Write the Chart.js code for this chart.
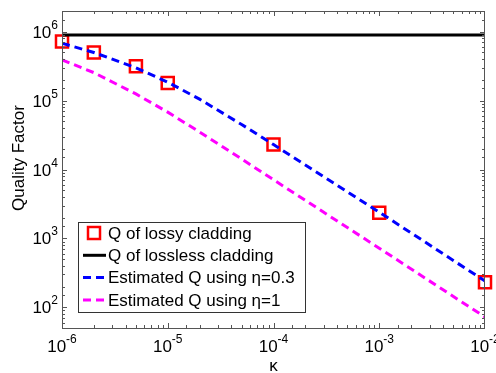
<!DOCTYPE html>
<html>
<head>
<meta charset="utf-8">
<script src="https://cdn.jsdelivr.net/npm/chart.js@4.4.1/dist/chart.umd.min.js"></script>
<style>
html, body { margin: 0; padding: 0; background: #fff; }
#wrap { width: 496px; height: 373px; }
canvas { display: block; }
</style>
</head>
<body>
<div id="wrap"><canvas id="qChart" width="496" height="373"></canvas></div>
<script>
// data
const kappaLossy = [1e-6, 2e-6, 5e-6, 1e-5, 1e-4, 1e-3, 1e-2];
const qLossy = [7.2e5, 5.0e5, 3.15e5, 1.8e5, 2.3e4, 2.35e3, 230];

const kappaLossless = [1e-6, 1e-2];
const qLossless = [9.0e5, 9.0e5];

const kappaEst = [1e-6, 2e-6, 5e-6, 1e-5, 2e-5, 5e-5, 1e-4, 1e-3, 1e-2];
const qEst03 = [6.8e5, 5.0e5, 3.0e5, 1.85e5, 1.05e5, 4.5e4, 2.3e4, 2.4e3, 240];
const qEst1 = [3.9e5, 2.55e5, 1.25e5, 6.8e4, 3.5e4, 1.42e4, 7.1e3, 720, 72];

const xTickExp = [-6, -5, -4, -3, -2];
const yTickExp = [2, 3, 4, 5, 6];
const seriesNames = ['Q of lossy cladding', 'Q of lossless cladding', 'Estimated Q using \u03b7=0.3', 'Estimated Q using \u03b7=1'];

const FONT = '"Liberation Sans", Arial, sans-serif';
const toPts = (xs, ys) => xs.map((x, i) => ({ x: x, y: ys[i] }));

// axes box, inward ticks, superscript labels, legend
const matlabAxes = {
  id: 'matlabAxes',
  afterDraw(chart) {
    const ctx = chart.ctx;
    const a = chart.chartArea;
    const xs = chart.scales.x;
    const ys = chart.scales.y;
    const isMajor = v => Math.abs(Math.log10(v) - Math.round(Math.log10(v))) < 1e-6;

    ctx.save();
    ctx.strokeStyle = '#555';
    ctx.lineWidth = 1;
    ctx.strokeRect(a.left + 0.5, a.top + 0.5, a.right - a.left - 1, a.bottom - a.top);

    ctx.beginPath();
    xs.ticks.forEach(t => {
      const p = Math.round(xs.getPixelForValue(t.value)) + 0.5;
      if (p < a.left || p > a.right) return;
      const len = isMajor(t.value) ? 5 : 3;
      ctx.moveTo(p, a.bottom); ctx.lineTo(p, a.bottom - len);
      ctx.moveTo(p, a.top); ctx.lineTo(p, a.top + len);
    });
    ys.ticks.forEach(t => {
      const p = Math.round(ys.getPixelForValue(t.value)) + 0.5;
      if (p < a.top || p > a.bottom) return;
      const len = isMajor(t.value) ? 5 : 3;
      ctx.moveTo(a.left, p); ctx.lineTo(a.left + len, p);
      ctx.moveTo(a.right, p); ctx.lineTo(a.right - len, p);
    });
    ctx.stroke();

    // tick labels 10^n
    ctx.fillStyle = '#000';
    ctx.textBaseline = 'alphabetic';
    const drawPow = (exp, cx, base, alignRight) => {
      ctx.font = '17px ' + FONT;
      const w1 = ctx.measureText('10').width;
      ctx.font = '12px ' + FONT;
      const sup = String(exp);
      const w2 = ctx.measureText(sup).width;
      const start = alignRight ? cx - w1 - w2 : cx - (w1 + w2) / 2;
      ctx.textAlign = 'left';
      ctx.font = '17px ' + FONT;
      ctx.fillText('10', start, base);
      ctx.font = '12px ' + FONT;
      ctx.fillText(sup, start + w1, base - 9);
    };
    xTickExp.forEach(e => {
      const px = xs.getPixelForValue(Math.pow(10, e));
      drawPow(e, px, a.bottom + 24, false);
    });
    yTickExp.forEach(e => {
      const py = ys.getPixelForValue(Math.pow(10, e));
      drawPow(e, a.left - 4, py + 6, true);
    });

    // axis titles
    ctx.font = '17px ' + FONT;
    ctx.textAlign = 'center';
    ctx.textBaseline = 'middle';
    ctx.fillText('\u03ba', (a.left + a.right) / 2, 366);
    ctx.save();
    ctx.translate(19, 158);
    ctx.rotate(-Math.PI / 2);
    ctx.fillText('Quality Factor', 0, 0);
    ctx.restore();

    // legend
    const lx = 78, ly = 222, lw = 227, lh = 90;
    ctx.fillStyle = '#fff';
    ctx.fillRect(lx, ly, lw, lh);
    ctx.strokeStyle = '#333';
    ctx.lineWidth = 1;
    ctx.strokeRect(lx + 0.5, ly + 0.5, lw, lh);
    ctx.font = '17px ' + FONT;
    ctx.textAlign = 'left';
    ctx.textBaseline = 'middle';
    chart.data.datasets.forEach((ds, i) => {
      const ry = ly + 11 + i * 22.3;
      if (ds.showLine === false) {
        ctx.strokeStyle = ds.pointBorderColor;
        ctx.lineWidth = ds.pointBorderWidth;
        ctx.setLineDash([]);
        ctx.strokeRect(88, ry - 6, 12, 12);
      } else {
        ctx.strokeStyle = ds.borderColor;
        ctx.lineWidth = ds.borderWidth;
        ctx.setLineDash(ds.borderDash || []);
        ctx.beginPath();
        ctx.moveTo(83, ry); ctx.lineTo(106, ry);
        ctx.stroke();
        ctx.setLineDash([]);
      }
      ctx.fillStyle = '#000';
      ctx.fillText(ds.label, 108, ry + 1);
    });
    ctx.restore();
  }
};

new Chart(document.getElementById('qChart'), {
  type: 'scatter',
  data: {
    datasets: [
      {
        label: seriesNames[0],
        data: toPts(kappaLossy, qLossy),
        showLine: false,
        pointStyle: 'rect',
        pointRadius: 8.5,
        pointBorderColor: '#ff0000',
        pointBackgroundColor: 'rgba(0,0,0,0)',
        pointBorderWidth: 2.5,
        clip: false,
        order: 4
      },
      {
        label: seriesNames[1],
        data: toPts(kappaLossless, qLossless),
        showLine: true,
        borderColor: '#000000',
        borderWidth: 3,
        pointRadius: 0,
        order: 3
      },
      {
        label: seriesNames[2],
        data: toPts(kappaEst, qEst03),
        showLine: true,
        borderColor: '#0000ff',
        borderWidth: 3,
        borderDash: [8, 5],
        pointRadius: 0,
        order: 2
      },
      {
        label: seriesNames[3],
        data: toPts(kappaEst, qEst1),
        showLine: true,
        borderColor: '#ff00ff',
        borderWidth: 3,
        borderDash: [8, 5],
        pointRadius: 0,
        order: 1
      }
    ]
  },
  options: {
    responsive: false,
    animation: false,
    devicePixelRatio: 1,
    layout: { padding: { top: 5, right: 9, left: 0, bottom: 0 } },
    plugins: { legend: { display: false }, tooltip: { enabled: false } },
    scales: {
      x: {
        type: 'logarithmic',
        min: 1e-6,
        max: 1e-2,
        grid: { display: false },
        border: { display: false },
        ticks: { display: false },
        afterFit: s => { s.height = 45; }
      },
      y: {
        type: 'logarithmic',
        min: 50,
        max: 2e6,
        grid: { display: false },
        border: { display: false },
        ticks: { display: false },
        afterFit: s => { s.width = 62; }
      }
    }
  },
  plugins: [matlabAxes]
});
</script>
</body>
</html>
